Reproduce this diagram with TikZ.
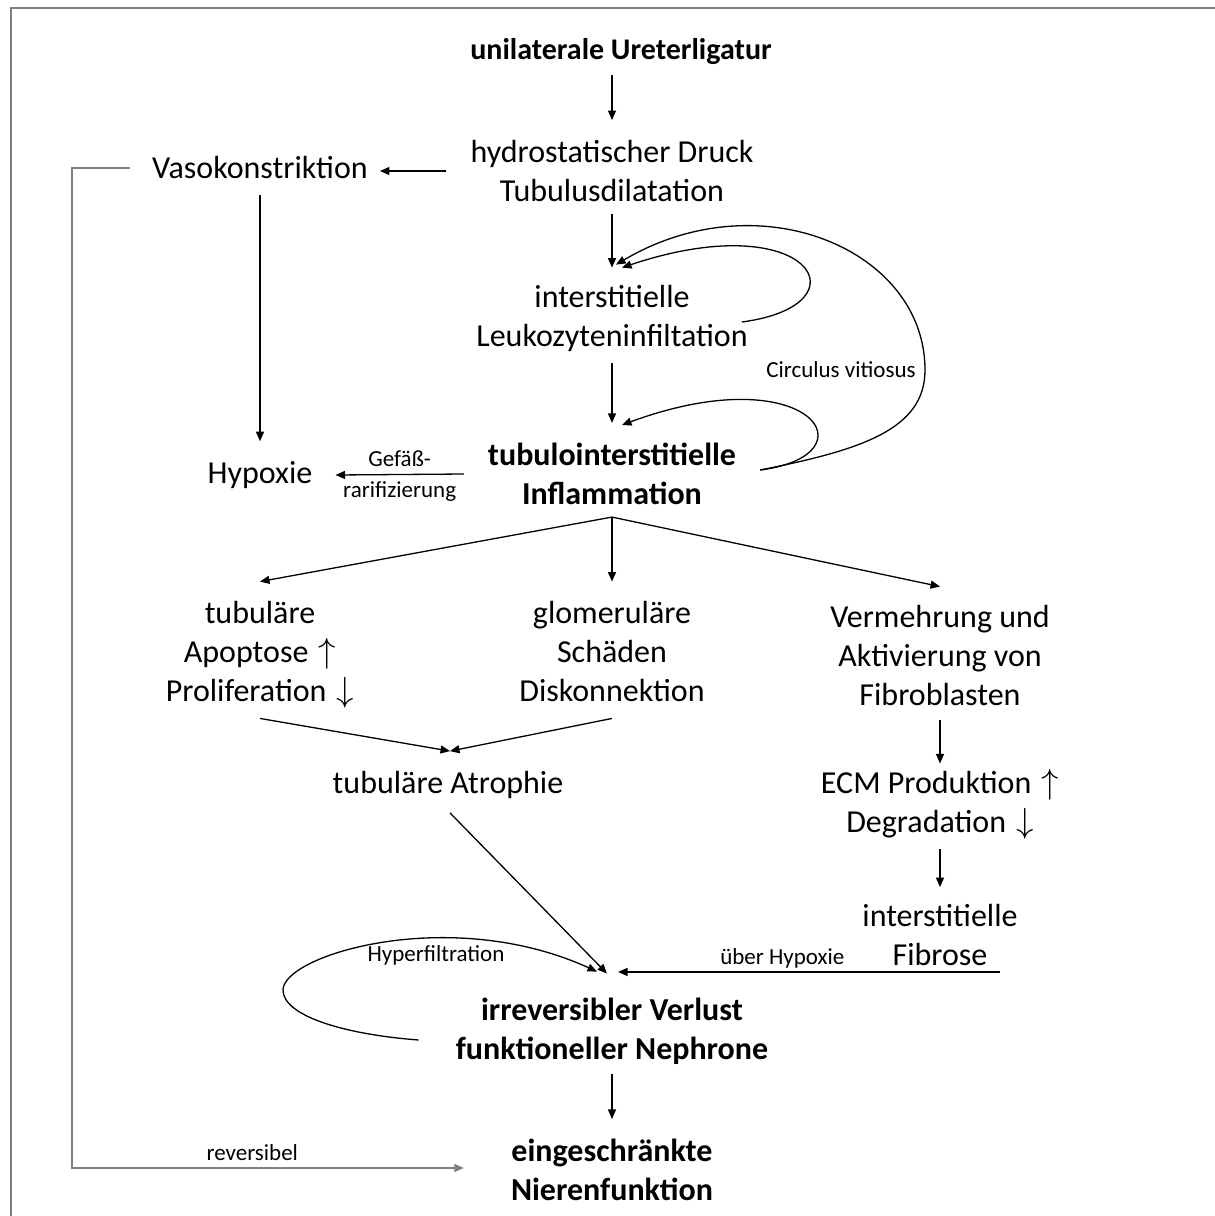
\documentclass[tikz,border=0pt]{standalone}
\usepackage{fontspec}
\usepackage{graphicx}
\setmainfont{Carlito}
\usetikzlibrary{arrows.meta,calc}
\newcommand{\upa}{\hspace{3pt}\smash{\scalebox{1.4}{$\uparrow$}}}
\newcommand{\dna}{\hspace{3pt}\smash{\scalebox{1.4}{$\downarrow$}}}
\begin{document}
\begin{tikzpicture}[x=1pt,y=-1pt,
  txt/.style={font=\fontsize{32}{39}\selectfont, align=center, inner sep=0pt},
  btxt/.style={font=\fontsize{32}{39}\selectfont\bfseries, align=center, inner sep=0pt},
  lbl/.style={font=\fontsize{23}{27}\selectfont, inner sep=0pt},
  arr/.style={-{Triangle[length=9.5pt,width=8pt]}, line width=1.3pt},
  garr/.style={-{Triangle[length=9.5pt,width=8pt]}, line width=1.3pt, draw=gray},
  frame/.style={draw=gray, line width=2pt}]
\useasboundingbox (0,0) rectangle (1215,1216);
\draw[frame] (11,1216) -- (11,8) -- (1215,8);

\node[btxt, font=\fontsize{30}{39}\selectfont\bfseries] (uni) at (621,52) {unilaterale Ureterligatur};
\node[txt] (hyd) at (612,171) {hydrostatischer Druck\\Tubulusdilatation};
\node[txt] (vaso) at (260,168) {Vasokonstriktion};
\node[txt] (leuk) at (612,318) {interstitielle\\Leukozyteninfiltation};
\node[btxt] (infl) at (612,474) {tubulointerstitielle\\Inflammation};
\node[txt] (hyp) at (260,475) {Hypoxie};
\node[txt] (tub) at (260,651) {tubuläre\\Apoptose \upa\\Proliferation \dna};
\node[txt] (glom) at (612,651) {glomeruläre\\Schäden\\Diskonnektion};
\node[txt] (verm) at (940,655) {Vermehrung und\\Aktivierung von\\Fibroblasten};
\node[txt] (atro) at (448,785) {tubuläre Atrophie};
\node[txt] (ecm) at (940,805) {ECM Produktion \upa\\Degradation \dna};
\node[txt] (fib) at (940,935) {interstitielle\\Fibrose};
\node[btxt] (verl) at (612,1031) {irreversibler Verlust\\funktioneller Nephrone};
\node[btxt] (nier) at (612,1170) {eingeschränkte\\Nierenfunktion};

\draw[arr] ($(uni.south)+(-9,10)$) -- ($(hyd.north)+(0,-20)$);
\draw[arr] ($(hyd.west)+(-24,0)$) -- ($(vaso.east |- hyd.west)+(12,0)$);
\draw[arr] ($(vaso.south)+(0,16)$) -- ($(hyp.north)+(0,-20)$);
\draw[arr] ($(hyd.south)+(0,12)$) -- ($(leuk.north)+(0,-17)$);
\draw[arr] ($(leuk.south)+(0,12)$) -- ($(infl.north)+(0,-20)$);
\draw[arr] ($(infl.west)+(-24,0)$) -- ($(hyp.east)+(23,0)$)
  node[lbl, pos=0.5, above=7pt] {Gefäß-}
  node[lbl, pos=0.5, below=6pt] {rarifizierung};

% loops
\draw[arr] ($(leuk.east)+(-6,4)$) .. controls +(128,-17) and +(188,-63) .. ($(leuk.north)+(10,-17)$);
\draw[arr] ($(infl.east)+(24,-4)$) .. controls +(100,-20) and +(0,60) .. (925,370)
  .. controls +(0,-120) and +(144,-85) .. ($(leuk.north)+(4,-20)$);
\draw[arr] ($(infl.east)+(24,-4)$) .. controls +(116,-15) and +(188,-69) .. ($(infl.north)+(10,-18)$);
\node[lbl] (circ) at (841,370) {Circulus vitiosus};

\draw[arr] ($(infl.south)+(0,12)$) -- ($(tub.north)+(0,-19)$);
\draw[arr] ($(infl.south)+(0,12)$) -- ($(glom.north)+(0,-19)$);
\draw[arr] ($(infl.south)+(0,12)$) -- ($(verm.north)+(0,-18)$);

\draw[arr] ($(tub.south)+(0,17)$) -- ($(atro.north)+(2,-20)$);
\draw[arr] ($(glom.south)+(0,17)$) -- ($(atro.north)+(2,-20)$);
\draw[arr] ($(atro.south)+(2,14)$) -- ($(verl.north)+(-5,-24)$);

\draw[arr] ($(verm.south)+(0,15)$) -- ($(ecm.north)+(0,-8)$);
\draw[arr] ($(ecm.south)+(0,10)$) -- ($(fib.north)+(0,-17)$);
\draw[arr] ($(fib.south)+(60,6)$) -- ($(verl.north |- fib.south)+(6,6)$)
  node[lbl, pos=0.57, above=3pt] {über Hypoxie};

\draw[arr] ($(verl.west)+(-37,9)$) .. controls +(-78,-6) and +(0,25) .. (283,990)
  .. controls +(0,-35) and +(-147,-67) .. ($(verl.north)+(-15,-26)$);
\node[lbl] (hyper) at (436,955) {Hyperfiltration};

\draw[arr] ($(verl.south)+(0,10)$) -- ($(nier.north)+(0,-20)$);

\draw[garr] ($(vaso.west)+(-22,0)$) -- ++(-58,0) |- ($(nier.west)+(-47,-2)$)
  node[lbl, pos=0.73, above=7pt, text=black] {reversibel};
\end{tikzpicture}
\end{document}
